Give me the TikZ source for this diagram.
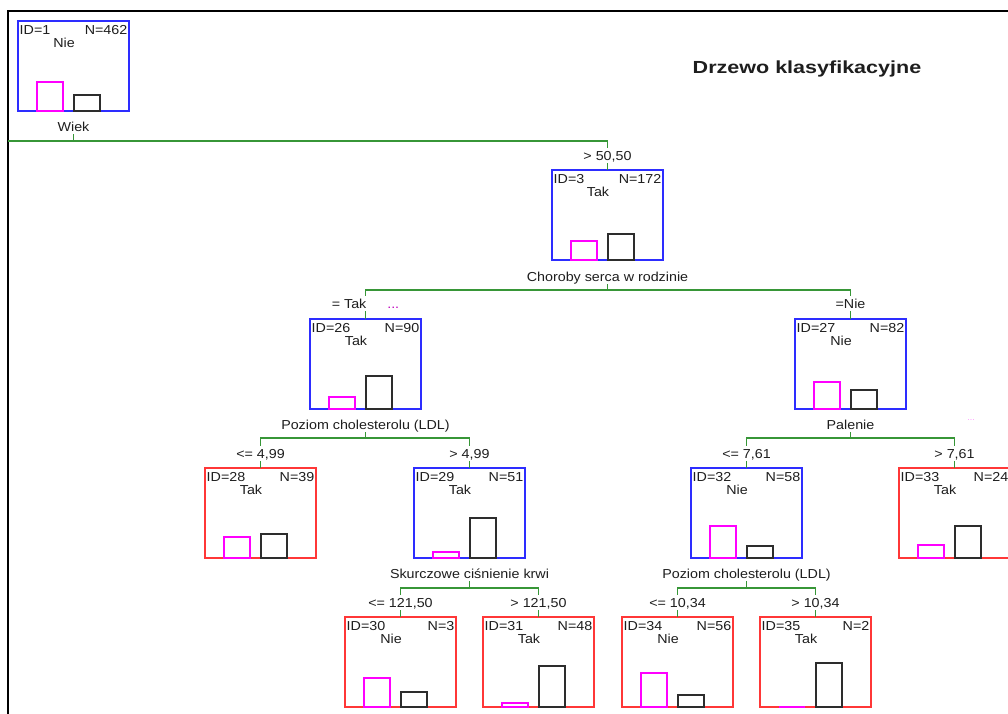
\documentclass[tikz,border=0pt]{standalone}
\usepackage{fontspec}
\setmainfont{Liberation Sans}
\usepackage{graphicx}
\definecolor{nblue}{RGB}{45,45,255}
\definecolor{nred}{RGB}{255,55,55}
\definecolor{bmag}{RGB}{255,0,255}
\definecolor{bblk}{RGB}{45,45,45}
\definecolor{egreen}{RGB}{55,150,55}
\definecolor{txt}{RGB}{30,30,30}
\newcommand{\sx}[1]{\scalebox{1.1}[1]{#1}}
\tikzset{
  tbox/.style={rectangle,line width=1.5pt,minimum width=111pt,minimum height=90pt,inner sep=0pt,outer sep=0pt,anchor=north west},
  idl/.style={inner sep=0pt,text=txt,font=\fontsize{13}{15}\selectfont},
  mbar/.style={rectangle,draw=bmag,line width=1.3pt,minimum width=26pt,inner sep=0pt,outer sep=0pt,anchor=south west},
  kbar/.style={rectangle,draw=bblk,line width=1.3pt,minimum width=26pt,inner sep=0pt,outer sep=0pt,anchor=south west},
  elab/.style={anchor=base,inner sep=0pt,text height=9.5pt,text depth=0pt,outer ysep=3pt,text=txt,font=\fontsize{13}{15}\selectfont},
  split/.style={anchor=base,inner sep=0pt,text height=9.5pt,text depth=0pt,outer ysep=3pt,text=txt,font=\fontsize{13}{15}\selectfont},
  edge/.style={draw=egreen,line width=1.3pt}
}
\newcommand{\tnode}[9]{%
  \node[tbox,draw=#4] (#1) at (#2,#3) {};
  \node[idl,anchor=base west] (#1i) at ([xshift=1.5pt,yshift=-13.5pt]#1.north west) {\sx{ID=#5}};
  \node[idl,anchor=base east] (#1n) at ([xshift=-1.5pt,yshift=-13.5pt]#1.north east) {\sx{N=#6}};
  \node[idl,anchor=base] (#1c) at ([xshift=-9.5pt,yshift=-26.5pt]#1.north) {\sx{#7}};
  \node[mbar,minimum height=#8pt] (#1m) at ([xshift=19pt]#1.south west) {};
  \node[kbar,minimum height=#9pt] (#1k) at ([xshift=56pt]#1.south west) {};
}
\begin{document}
\begin{tikzpicture}[x=1pt,y=-1pt]
\clip (0,0) rectangle (1008,713);
\fill[white] (0,0) rectangle (1008,713);
\draw[line width=2pt] (8,720) -- (8,10.5) -- (1015,10.5);

% tree nodes
\tnode{n1}{18}{21}{nblue}{1}{462}{Nie}{29}{16}
\tnode{n3}{552}{170}{nblue}{3}{172}{Tak}{19}{26}
\tnode{n26}{310}{319}{nblue}{26}{90}{Tak}{12}{33}
\tnode{n27}{795}{319}{nblue}{27}{82}{Nie}{27}{19}
\tnode{n28}{205}{468}{nred}{28}{39}{Tak}{21}{24}
\tnode{n29}{414}{468}{nblue}{29}{51}{Tak}{6}{40}
\tnode{n32}{691}{468}{nblue}{32}{58}{Nie}{32}{12}
\tnode{n33}{899}{468}{nred}{33}{24}{Tak}{13}{32}
\tnode{n30}{345}{617}{nred}{30}{3}{Nie}{29}{15}
\tnode{n31}{483}{617}{nred}{31}{48}{Tak}{4}{41}
\tnode{n34}{622}{617}{nred}{34}{56}{Nie}{34}{12}
\tnode{n35}{760}{617}{nred}{35}{2}{Tak}{0}{44}

% split labels
\node[split] (n1s) at ([yshift=-20pt]n1.south) {\sx{Wiek}};
\node[split] (n3s) at ([yshift=-21pt]n3.south) {\sx{Choroby serca w rodzinie}};
\node[split] (n26s) at ([yshift=-20pt]n26.south) {\sx{Poziom cholesterolu (LDL)}};
\node[split] (n27s) at ([yshift=-20pt]n27.south) {\sx{Palenie}};
\node[split] (n29s) at ([yshift=-20pt]n29.south) {\sx{Skurczowe ciśnienie krwi}};
\node[split] (n32s) at ([yshift=-20pt]n32.south) {\sx{Poziom cholesterolu (LDL)}};

% edge labels
\node[elab] (e3) at ([yshift=10pt]n3.north) {\sx{> 50,50}};
\node[elab] (e26) at ([yshift=11pt]n26.north) {\sx{= Tak\hspace{19pt}\textcolor{bmag!75!black}{...}}};
\node[elab] (e27) at ([yshift=11pt]n27.north) {\sx{=Nie}};
\node[elab] (e28) at ([yshift=10pt]n28.north) {\sx{<= 4,99}};
\node[elab] (e29) at ([yshift=10pt]n29.north) {\sx{> 4,99}};
\node[elab] (e32) at ([yshift=10pt]n32.north) {\sx{<= 7,61}};
\node[elab] (e33) at ([yshift=10pt]n33.north) {\sx{> 7,61}};
\node[elab] (e30) at ([yshift=10pt]n30.north) {\sx{<= 121,50}};
\node[elab] (e31) at ([yshift=10pt]n31.north) {\sx{> 121,50}};
\node[elab] (e34) at ([yshift=10pt]n34.north) {\sx{<= 10,34}};
\node[elab] (e35) at ([yshift=10pt]n35.north) {\sx{> 10,34}};

% junctions
\coordinate (j1) at ([yshift=-30pt]n1.south);
\coordinate (offl) at (8,141);
\coordinate (j3) at ([yshift=-30pt]n3.south);
\coordinate (j26) at ([yshift=-29pt]n26.south);
\coordinate (j27) at ([yshift=-29pt]n27.south);
\coordinate (j29) at ([yshift=-30pt]n29.south);
\coordinate (j32) at ([yshift=-30pt]n32.south);

% connectors
\draw[edge] (n1s.south) -- (j1);
\draw[edge] (j1) -- (offl);
\draw[edge] (j1) -| (e3.north);
\draw[edge] (e3.south) -- (n3.north);

\draw[edge] (n3s.south) -- (j3);
\draw[edge] (j3) -| (e26.north);
\draw[edge] (j3) -| (e27.north);
\draw[edge] (e26.south) -- (n26.north);
\draw[edge] (e27.south) -- (n27.north);

\draw[edge] (n26s.south) -- (j26);
\draw[edge] (j26) -| (e28.north);
\draw[edge] (j26) -| (e29.north);
\draw[edge] (e28.south) -- (n28.north);
\draw[edge] (e29.south) -- (n29.north);

\draw[edge] (n27s.south) -- (j27);
\draw[edge] (j27) -| (e32.north);
\draw[edge] (j27) -| (e33.north);
\draw[edge] (e32.south) -- (n32.north);
\draw[edge] (e33.south) -- (n33.north);

\draw[edge] (n29s.south) -- (j29);
\draw[edge] (j29) -| (e30.north);
\draw[edge] (j29) -| (e31.north);
\draw[edge] (e30.south) -- (n30.north);
\draw[edge] (e31.south) -- (n31.north);

\draw[edge] (n32s.south) -- (j32);
\draw[edge] (j32) -| (e34.north);
\draw[edge] (j32) -| (e35.north);
\draw[edge] (e34.south) -- (n34.north);
\draw[edge] (e35.south) -- (n35.north);

% title and stray dots
\node[text=txt,inner sep=0pt,font=\fontsize{17.5}{20}\selectfont\bfseries] (title) at (807,69) {\scalebox{1.23}[1]{Drzewo klasyfikacyjne}};
\node[text=bmag!40,inner sep=0pt,font=\fontsize{9}{10}\selectfont] (dots) at (971,420) {...};
\end{tikzpicture}
\end{document}
